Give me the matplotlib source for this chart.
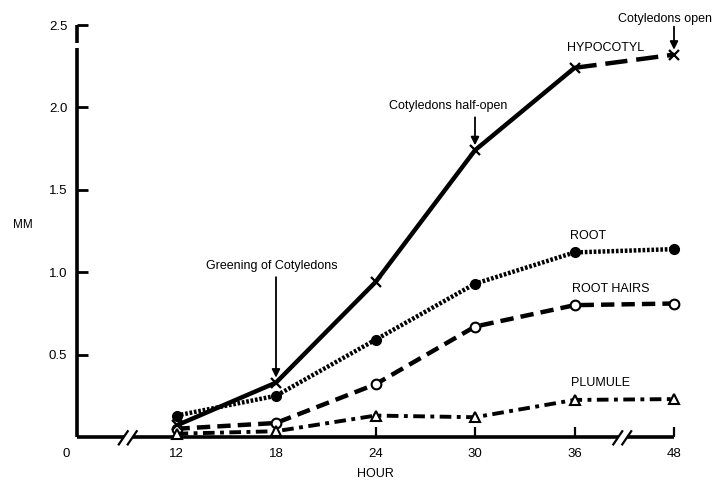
import numpy as np
import matplotlib
matplotlib.use("Agg")
import matplotlib.pyplot as plt

# data (hours / mm)
hours = [12, 18, 24, 30, 36, 48]
hypocotyl = [0.07, 0.33, 0.94, 1.74, 2.24, 2.32]
root = [0.13, 0.25, 0.59, 0.93, 1.12, 1.14]
root_hairs = [0.05, 0.085, 0.32, 0.67, 0.80, 0.81]
plumule = [0.02, 0.035, 0.13, 0.12, 0.225, 0.23]

tick_hours = [0, 12, 18, 24, 30, 36, 48]
tick_labels = ["0", "12", "18", "24", "30", "36", "48"]
yticks = [0.5, 1.0, 1.5, 2.0, 2.5]
ytick_labels = ["0.5", "1.0", "1.5", "2.0", "2.5"]

# broken time axis: each labelled hour gets its own evenly spaced slot
slot = np.arange(len(tick_hours), dtype=float)


def hx(h):
    return np.interp(h, tick_hours, slot)


plt.rcParams['font.family'] = ['Liberation Sans', 'DejaVu Sans']

fig = plt.figure(figsize=(7.12, 4.82), dpi=100)
W, H = 712, 482
ax = fig.add_axes([77 / W, (H - 437) / H, (674 - 77) / W, (437 - 25) / H])
ax.set_xlim(0, 6)
ax.set_ylim(0, 2.5)

for s in ["top", "right", "bottom"]:
    ax.spines[s].set_visible(False)
ax.spines["left"].set_linewidth(2.6)
ax.spines["left"].set_bounds(0, 2.36)
ax.spines["left"].set_capstyle("butt")
ax.plot([0, 0], [2.39, 2.5], color="k", lw=2.6, clip_on=False, solid_capstyle="butt")

# x axis drawn in pieces with the two breaks
for a, b in [(0, 0.47), (0.56, 5.44), (5.53, 6.0)]:
    ax.plot([a, b], [0, 0], color="k", lw=2.6, clip_on=False, solid_capstyle="butt")
for c in [0.51, 5.48]:
    for d in [-0.045, 0.045]:
        ax.plot([c + d - 0.045, c + d + 0.045], [-0.045, 0.035], color="k", lw=1.6,
                clip_on=False)

x = hx(hours)
lw = 3.2
# hypocotyl: solid, then long dashes across the break
ax.plot(x[:5], hypocotyl[:5], color="k", lw=lw, solid_capstyle="butt", zorder=3)
ax.plot(x[4:], hypocotyl[4:], color="k", lw=lw, dashes=(5, 2), zorder=3)
ax.plot(x, hypocotyl, ls="none", marker="x", ms=7, mew=1.6, color="k",
        clip_on=False, zorder=4)

ax.plot(x, root, color="k", lw=lw, ls=(0, (0.6, 0.4)), marker="o", ms=7,
        mfc="k", clip_on=False, zorder=3)
ax.plot(x, root_hairs, color="k", lw=lw, dashes=(3, 1.6), marker="o", ms=7,
        mfc="white", mew=1.5, clip_on=False, zorder=3)
ax.plot(x, plumule, color="k", lw=2.8, dashes=(3, 1.4, 1, 1.4), marker="^", ms=7,
        mfc="white", mew=1.5, clip_on=False, zorder=3)

ax.set_xticks(slot[1:])
ax.set_xticklabels(tick_labels[1:])
ax.set_yticks(yticks)
ax.set_yticklabels(ytick_labels)
ax.tick_params(axis="y", direction="in", length=8, width=2, pad=7, labelsize=9.5)
ax.tick_params(axis="x", direction="in", length=7, width=1.6, pad=8, labelsize=9.5)
ax.text(-0.11, -0.027, "0", transform=ax.get_xaxis_transform(), ha="center",
        va="top", fontsize=9.5)

ax.text(3.0, -0.09, "HOUR", transform=ax.get_xaxis_transform(), ha="center",
        va="center", fontsize=9)
fig.text(23 / W, 1 - 225 / H, "MM", ha="center", va="center", fontsize=8.5)

# series labels
fs = 9
ax.text(5.31, 2.36, "HYPOCOTYL", ha="center", va="center", fontsize=fs)
ax.text(5.14, 1.22, "ROOT", ha="center", va="center", fontsize=fs)
ax.text(5.36, 0.90, "ROOT HAIRS", ha="center", va="center", fontsize=fs)
ax.text(5.26, 0.33, "PLUMULE", ha="center", va="center", fontsize=fs)

# event annotations: text plus a vertical arrow down to the curve
arrow = dict(arrowstyle="-|>", color="k", lw=1.3, mutation_scale=12,
             shrinkA=0, shrinkB=0)
ax.text(1.96, 1.0, "Greening of Cotyledons", ha="center", va="bottom", fontsize=fs)
ax.annotate("", xy=(hx(18), hypocotyl[1] + 0.03), xytext=(hx(18), 0.97),
            arrowprops=arrow)
ax.text(3.73, 1.97, "Cotyledons half-open", ha="center", va="bottom", fontsize=fs)
ax.annotate("", xy=(hx(30), hypocotyl[3] + 0.03), xytext=(hx(30), 1.94),
            arrowprops=arrow)
ax.text(5.91, 2.5, "Cotyledons open", ha="center", va="bottom", fontsize=fs,
        clip_on=False)
ax.annotate("", xy=(hx(48), hypocotyl[5] + 0.03), xytext=(hx(48), 2.49),
            arrowprops=arrow, annotation_clip=False)

fig.savefig("out.png", dpi=100)
